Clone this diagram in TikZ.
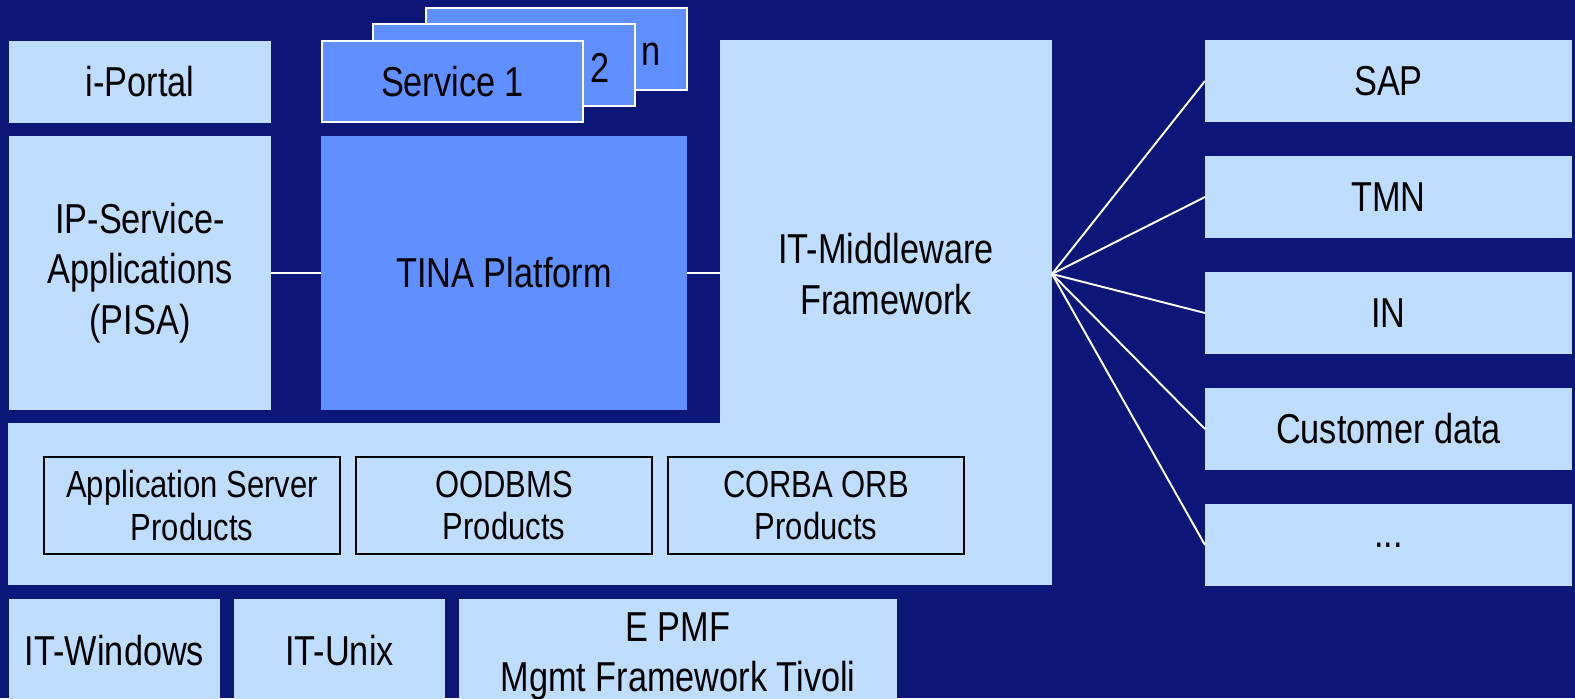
\documentclass[tikz,border=0pt]{standalone}
\usepackage{fontspec}
\setmainfont[FakeStretch=0.82]{Liberation Sans}
\usepackage{tikz}
\definecolor{navy}{RGB}{11,22,120}
\definecolor{pale}{RGB}{191,222,255}
\definecolor{mid}{RGB}{96,143,255}
\newcommand{\bigfont}{\fontsize{23.8}{28.7}\selectfont}
\newcommand{\smallfont}{\fontsize{21.5}{24}\selectfont}
\newcommand{\px}{0.02cm}

\begin{document}
\begin{tikzpicture}[x=0.02cm, y=-0.02cm]
            \tikzset{dims/.style 2 args = {minimum width=#1*\px, minimum height=#2*\px}}
            \tikzset{box/.style = {fill=pale, inner sep=0pt, outer sep=0pt, align=center, font=\bigfont}}
            \tikzset{tina/.style = {box, fill=mid}}
            \tikzset{service/.style = {tina, draw=white, line width=1.1pt}}
            \tikzset{product/.style = {box, draw=black, line width=1.1pt, font=\smallfont}}
            \tikzset{link/.style = {draw=white, line width=1.1pt}}
            \fill[navy] (0,0) rectangle (1575,698);
            \useasboundingbox (0,0) rectangle (1575,698);

            \node[box, dims={262}{82}] (iportal) at (140,82) {i-Portal};
            \node[box, dims={262}{274}] (pisa) at (140,273) {IP-Service-\\Applications\\(PISA)};
            \node[tina, dims={366}{274}] (tina) at (504,273) {TINA Platform};

            \node[service, dims={261}{82}] (servn) at (556.5,49) {};
            \node[service, dims={262}{82}] (serv2) at (504,65) {};
            \node[service, dims={261}{81}] (serv1) at (452.5,81.5) {Service 1};
            \node[font=\bigfont, inner sep=0pt] (lab2) at (600,68) {2};
            \node[font=\bigfont, inner sep=0pt] (labn) at (651,54) {n};

            \node[box, dims={332}{545}] (mwtop) at (886,312.5) {};
            \node[box, dims={1044}{162}] (mwbase) at (530,504) {};
            \node[font=\bigfont, align=center, inner sep=0pt] (mwlabel) at (886,274) {IT-Middleware\\Framework};

            \node[product, dims={296}{97}] (appserv) at (192,505.5) {Application Server\\Products};
            \node[product, dims={296}{97}] (oodbms) at (504,505.5) {OODBMS\\Products};
            \node[product, dims={296}{97}] (corba) at (816,505.5) {CORBA ORB\\Products};

            \node[box, dims={367}{82}] (sap) at (1388.5,81) {SAP};
            \node[box, dims={367}{82}] (tmn) at (1388.5,197) {TMN};
            \node[box, dims={367}{82}] (inet) at (1388.5,313) {IN};
            \node[box, dims={367}{82}] (cust) at (1388.5,429) {Customer data};
            \node[box, dims={367}{82}] (more) at (1388.5,545) {...};

            \node[box, dims={211}{103}] (itwin) at (114.5,650.5) {IT-Windows};
            \node[box, dims={211}{103}] (itunix) at (339.5,650.5) {IT-Unix};
            \node[box, dims={438}{115}] (epmf) at (678,656.5) {E PMF\\Mgmt Framework Tivoli};

            \draw[link] (pisa) -- (tina);
            \draw[link] (tina.east) -- (tina.east -| mwtop.west);
            \coordinate (hub) at (1052,274);
            \foreach \n in {sap,tmn,inet,cust,more}
                \draw[link] (hub) -- (\n.west);
\end{tikzpicture}
\end{document}
